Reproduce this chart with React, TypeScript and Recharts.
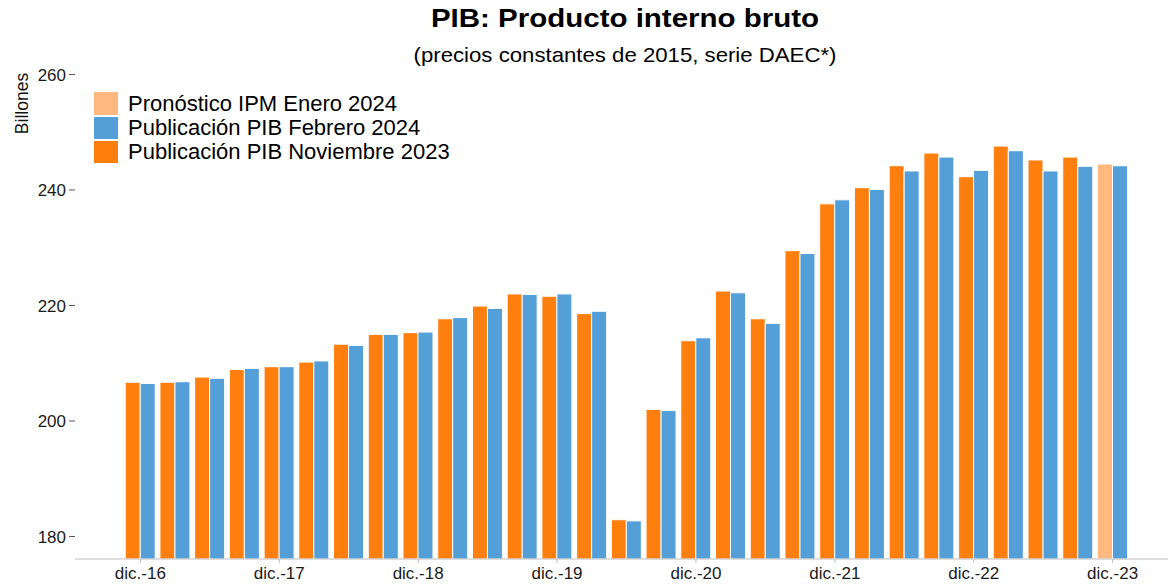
import React from 'react';
import { BarChart, Bar, XAxis, YAxis, Legend, Cell } from 'recharts';

const categories = [
  'dic.-16', 'mar.-17', 'jun.-17', 'sep.-17',
  'dic.-17', 'mar.-18', 'jun.-18', 'sep.-18',
  'dic.-18', 'mar.-19', 'jun.-19', 'sep.-19',
  'dic.-19', 'mar.-20', 'jun.-20', 'sep.-20',
  'dic.-20', 'mar.-21', 'jun.-21', 'sep.-21',
  'dic.-21', 'mar.-22', 'jun.-22', 'sep.-22',
  'dic.-22', 'mar.-23', 'jun.-23', 'sep.-23',
  'dic.-23',
];

const pibNov2023: (number | null)[] = [
  206.7, 206.7, 207.6, 208.9,
  209.4, 210.2, 213.3, 215.0,
  215.3, 217.7, 219.9, 222.0,
  221.6, 218.6, 182.9, 202.0,
  213.9, 222.5, 217.7, 229.5,
  237.6, 240.4, 244.2, 246.4,
  242.3, 247.6, 245.2, 245.7,
  null,
];

const pibFeb2024: number[] = [
  206.5, 206.8, 207.4, 209.1,
  209.4, 210.4, 213.1, 215.0,
  215.4, 217.9, 219.5, 221.9,
  222.0, 219.0, 182.7, 201.8,
  214.4, 222.2, 216.9, 229.0,
  238.3, 240.1, 243.3, 245.7,
  243.4, 246.8, 243.3, 244.1,
  244.2,
];

const ipmEne2024: (number | null)[] = [
  null, null, null, null, null, null, null, null, null, null,
  null, null, null, null, null, null, null, null, null, null,
  null, null, null, null, null, null, null, null,
  244.5,
];

const yTicks = [180, 200, 220, 240, 260];

const ORANGE = '#FF7F0E';
const BLUE = '#549FD7';
const LIGHT = '#FFB87E';
const FONT = '"Liberation Sans", Arial, Helvetica, sans-serif';

const legendItems = [
  { label: 'Pronóstico IPM Enero 2024', color: LIGHT },
  { label: 'Publicación PIB Febrero 2024', color: BLUE },
  { label: 'Publicación PIB Noviembre 2023', color: ORANGE },
];

const data = categories.map((cat, i) => ({
  cat,
  left: pibNov2023[i] != null ? pibNov2023[i] : ipmEne2024[i],
  feb: pibFeb2024[i],
  isForecast: pibNov2023[i] == null,
}));

const LegendContent = () => (
  <div style={{ fontFamily: FONT }}>
    {legendItems.map((it) => (
      <div key={it.label} style={{ display: 'flex', alignItems: 'center', height: 24.3 }}>
        <div style={{ width: 24, height: 22.5, background: it.color, marginRight: 10 }} />
        <span style={{ fontSize: 22, lineHeight: '24px', color: '#000', whiteSpace: 'nowrap' }}>{it.label}</span>
      </div>
    ))}
  </div>
);

export default function App() {
  return (
    <div style={{ position: 'absolute', left: 0, top: 0, width: 1168, height: 586, background: '#fff', fontFamily: FONT }}>
      <BarChart
        width={1168}
        height={586}
        data={data}
        margin={{ top: 74.5, right: 0, bottom: 0, left: 0 }}
        barCategoryGap={2.2}
        barGap={0}
      >
        <XAxis
          dataKey="cat"
          interval={3}
          height={27}
          padding={{ left: 48, right: 38 }}
          axisLine={{ stroke: '#bdbdbd' }}
          tickLine={{ stroke: '#bdbdbd' }}
          tickSize={4}
          tickMargin={4}
          tick={{ fontSize: 17, fill: '#1a1a1a', fontFamily: FONT }}
        />
        <YAxis
          type="number"
          domain={[176.1, 260]}
          ticks={yTicks}
          allowDataOverflow
          width={75}
          axisLine={false}
          tickLine={{ stroke: '#555' }}
          tickSize={6}
          tickMargin={3}
          tick={{ fontSize: 17, fill: '#1a1a1a', fontFamily: FONT }}
        />
        <Legend
          layout="vertical"
          align="center"
          verticalAlign="middle"
          wrapperStyle={{ left: 94, top: 91.5, width: 420 }}
          content={LegendContent}
        />
        <Bar dataKey="left" isAnimationActive={false} stroke="#ffffff" strokeWidth={1}>
          {data.map((d) => (
            <Cell key={d.cat} fill={d.isForecast ? LIGHT : ORANGE} />
          ))}
        </Bar>
        <Bar dataKey="feb" fill={BLUE} isAnimationActive={false} stroke="#ffffff" strokeWidth={1} />
      </BarChart>
      <svg
        width={1168}
        height={586}
        style={{ position: 'absolute', left: 0, top: 0, pointerEvents: 'none' }}
      >
        <text
          transform="translate(625,27) scale(1.18,1)"
          textAnchor="middle"
          fontFamily={FONT}
          fontWeight="bold"
          fontSize={25}
          fill="#000"
        >
          PIB: Producto interno bruto
        </text>
        <text
          transform="translate(625,62) scale(1.11,1)"
          textAnchor="middle"
          fontFamily={FONT}
          fontSize={20}
          fill="#000"
        >
          (precios constantes de 2015, serie DAEC*)
        </text>
        <text
          transform="translate(28,103.5) rotate(-90)"
          textAnchor="middle"
          fontFamily={FONT}
          fontSize={17.5}
          fill="#111"
        >
          Billones
        </text>
      </svg>
    </div>
  );
}
